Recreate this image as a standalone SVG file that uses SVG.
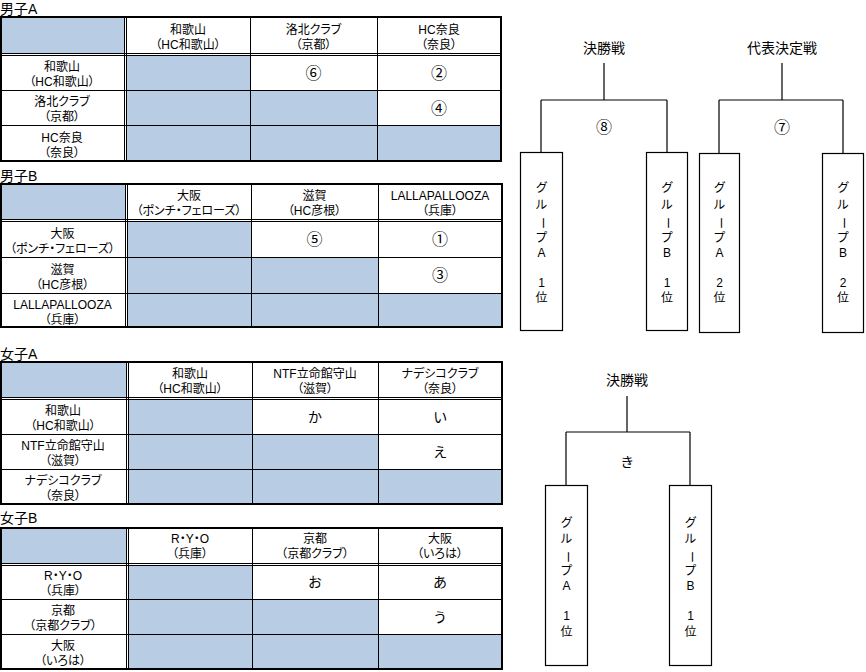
<svg xmlns="http://www.w3.org/2000/svg" width="866" height="672" viewBox="0 0 866 672">
<style>
text{font-family:"Liberation Sans","Noto Sans CJK JP",sans-serif;font-size:12px;text-anchor:middle;fill:#000;font-feature-settings:"palt" 1;}
.h{font-size:14px;text-anchor:start;}
.c{font-size:16px;}
.k{font-size:14px;}
.bt{font-size:14px;}
.bl{fill:#B8CCE4;stroke:none;}
.thin{stroke:#000;stroke-width:1;fill:none;}
.outer{stroke:#000;stroke-width:2;fill:none;}
.ln{stroke:#000;stroke-width:1.2;fill:none;}
.box{stroke:#000;stroke-width:1.2;fill:#fff;}
</style>
<rect width="866" height="672" fill="#fff"/>

<!-- 男子A -->
<g id="table-boys-a">
<text class="h" x="0" y="14">男子A</text>
<rect class="bl" x="0" y="17" width="124" height="36"/>
<rect class="bl" x="126" y="55" width="124" height="35"/>
<rect class="bl" x="126" y="90" width="251" height="35"/>
<rect class="bl" x="126" y="125" width="375" height="36"/>
<path class="thin" d="M0 53.5H501M0 55.5H501M0 90.5H501M0 125.5H501M124.5 17V161M126.5 17V161M250.5 17V161M377.5 17V161"/>
<rect class="outer" x="1" y="17" width="500" height="144"/>
<text x="188" y="33.5">和歌山</text><text x="188" y="48.5">（HC和歌山）</text>
<text x="313.5" y="33.5">洛北クラブ</text><text x="313.5" y="48.5">（京都）</text>
<text x="439" y="33.5">HC奈良</text><text x="439" y="48.5">（奈良）</text>
<text x="62" y="71">和歌山</text><text x="62" y="86">（HC和歌山）</text>
<text x="62" y="106">洛北クラブ</text><text x="62" y="121">（京都）</text>
<text x="62" y="141.5">HC奈良</text><text x="62" y="156.5">（奈良）</text>
<text class="c" x="313.5" y="78.5">⑥</text>
<text class="c" x="439" y="78.5">②</text>
<text class="c" x="439" y="113.5">④</text>
</g>

<!-- 男子B -->
<g id="table-boys-b">
<text class="h" x="0" y="181">男子B</text>
<rect class="bl" x="0" y="184" width="125" height="35"/>
<rect class="bl" x="127" y="221" width="124" height="36"/>
<rect class="bl" x="127" y="257" width="251" height="36"/>
<rect class="bl" x="127" y="293" width="375" height="34"/>
<path class="thin" d="M0 219.5H502M0 221.5H502M0 257.5H502M0 293.5H502M125.5 184V327M127.5 184V327M251.5 184V327M378.5 184V327"/>
<rect class="outer" x="1" y="184" width="501" height="143"/>
<text x="189" y="200">大阪</text><text x="189" y="215">（ポンチ・フェローズ）</text>
<text x="314.5" y="200">滋賀</text><text x="314.5" y="215">（HC彦根）</text>
<text x="440" y="200">LALLAPALLOOZA</text><text x="440" y="215">（兵庫）</text>
<text x="62.5" y="237.5">大阪</text><text x="62.5" y="252.5">（ポンチ・フェローズ）</text>
<text x="62.5" y="273.5">滋賀</text><text x="62.5" y="288.5">（HC彦根）</text>
<text x="62.5" y="308.5">LALLAPALLOOZA</text><text x="62.5" y="323.5">（兵庫）</text>
<text class="c" x="314.5" y="245">⑤</text>
<text class="c" x="440" y="245">①</text>
<text class="c" x="440" y="281">③</text>
</g>

<!-- 女子A -->
<g id="table-girls-a">
<text class="h" x="0" y="359">女子A</text>
<rect class="bl" x="0" y="362" width="126" height="35"/>
<rect class="bl" x="128" y="399" width="124" height="35"/>
<rect class="bl" x="128" y="434" width="250" height="35"/>
<rect class="bl" x="128" y="469" width="374" height="35"/>
<path class="thin" d="M0 397.5H502M0 399.5H502M0 434.5H502M0 469.5H502M126.5 362V504M128.5 362V504M252.5 362V504M378.5 362V504"/>
<rect class="outer" x="1" y="362" width="501" height="142"/>
<text x="190" y="378">和歌山</text><text x="190" y="393">（HC和歌山）</text>
<text x="315" y="378">NTF立命館守山</text><text x="315" y="393">（滋賀）</text>
<text x="440" y="378">ナデシコクラブ</text><text x="440" y="393">（奈良）</text>
<text x="63" y="415">和歌山</text><text x="63" y="430">（HC和歌山）</text>
<text x="63" y="450">NTF立命館守山</text><text x="63" y="465">（滋賀）</text>
<text x="63" y="485">ナデシコクラブ</text><text x="63" y="500">（奈良）</text>
<text class="k" x="315" y="421.5">か</text>
<text class="k" x="440" y="421.5">い</text>
<text class="k" x="440" y="456.5">え</text>
</g>

<!-- 女子B -->
<g id="table-girls-b">
<text class="h" x="0" y="523">女子B</text>
<rect class="bl" x="0" y="528" width="126" height="35"/>
<rect class="bl" x="128" y="565" width="124" height="34"/>
<rect class="bl" x="128" y="599" width="250" height="35"/>
<rect class="bl" x="128" y="634" width="374" height="35"/>
<path class="thin" d="M0 563.5H502M0 565.5H502M0 599.5H502M0 634.5H502M126.5 528V669M128.5 528V669M252.5 528V669M378.5 528V669"/>
<rect class="outer" x="1" y="528" width="501" height="141"/>
<text x="190" y="543">R・Y・O</text><text x="190" y="558">（兵庫）</text>
<text x="315" y="543">京都</text><text x="315" y="558">（京都クラブ）</text>
<text x="440" y="543">大阪</text><text x="440" y="558">（いろは）</text>
<text x="63" y="580">R・Y・O</text><text x="63" y="595">（兵庫）</text>
<text x="63" y="615">京都</text><text x="63" y="630">（京都クラブ）</text>
<text x="63" y="650">大阪</text><text x="63" y="665">（いろは）</text>
<text class="k" x="315" y="587">お</text>
<text class="k" x="440" y="587">あ</text>
<text class="k" x="440" y="621.5">う</text>
</g>

<!-- connectors -->
<g id="connectors">
<path class="ln" d="M604 63V100M541 100H667M541 100V152M667 100V152"/>
<path class="ln" d="M782 63V100M719 100H843M719 100V153M843 100V153"/>
<path class="ln" d="M627 396V432M566 432H690M566 432V485M690 432V485"/>
</g>

<!-- bracket labels -->
<g id="bracket-boys-final">
<text class="bt" x="604" y="53">決勝戦</text>
<text class="c" x="604" y="133">⑧</text>
</g>
<g id="bracket-boys-rep">
<text class="bt" x="782" y="53">代表決定戦</text>
<text class="c" x="782" y="133">⑦</text>
</g>
<g id="bracket-girls-final">
<text class="bt" x="627" y="385">決勝戦</text>
<text class="k" x="627" y="467">き</text>
</g>

<!-- boxes -->
<g id="box-boys-a1">
<rect class="box" x="520.5" y="152.5" width="42" height="178"/>
<text x="541.5" y="191.5">グ</text><text x="541.5" y="209">ル</text>
<text x="541.5" y="227" transform="rotate(90 541.5 223)">ー</text>
<text x="541.5" y="241.5">プ</text><text x="541.5" y="256.5">A</text>
<text x="541.5" y="286.5">1</text><text x="541.5" y="301.5">位</text>
</g>
<g id="box-boys-b1">
<rect class="box" x="646.5" y="152.5" width="41" height="178"/>
<text x="667" y="191.5">グ</text><text x="667" y="209">ル</text>
<text x="667" y="227" transform="rotate(90 667 223)">ー</text>
<text x="667" y="241.5">プ</text><text x="667" y="256.5">B</text>
<text x="667" y="286.5">1</text><text x="667" y="301.5">位</text>
</g>
<g id="box-boys-a2">
<rect class="box" x="699.5" y="153.5" width="40" height="179"/>
<text x="719.5" y="191.5">グ</text><text x="719.5" y="209">ル</text>
<text x="719.5" y="227" transform="rotate(90 719.5 223)">ー</text>
<text x="719.5" y="241.5">プ</text><text x="719.5" y="256.5">A</text>
<text x="719.5" y="286.5">2</text><text x="719.5" y="301.5">位</text>
</g>
<g id="box-boys-b2">
<rect class="box" x="822.5" y="153.5" width="41" height="179"/>
<text x="843" y="191.5">グ</text><text x="843" y="209">ル</text>
<text x="843" y="227" transform="rotate(90 843 223)">ー</text>
<text x="843" y="241.5">プ</text><text x="843" y="256.5">B</text>
<text x="843" y="286.5">2</text><text x="843" y="301.5">位</text>
</g>
<g id="box-girls-a1">
<rect class="box" x="545.5" y="485.5" width="42" height="180"/>
<text x="566.5" y="527">グ</text><text x="566.5" y="543">ル</text>
<text x="566.5" y="561" transform="rotate(90 566.5 557)">ー</text>
<text x="566.5" y="575">プ</text><text x="566.5" y="590">A</text>
<text x="566.5" y="620">1</text><text x="566.5" y="636">位</text>
</g>
<g id="box-girls-b1">
<rect class="box" x="669.5" y="485.5" width="42" height="180"/>
<text x="690.5" y="527">グ</text><text x="690.5" y="543">ル</text>
<text x="690.5" y="561" transform="rotate(90 690.5 557)">ー</text>
<text x="690.5" y="575">プ</text><text x="690.5" y="590">B</text>
<text x="690.5" y="620">1</text><text x="690.5" y="636">位</text>
</g>
</svg>
